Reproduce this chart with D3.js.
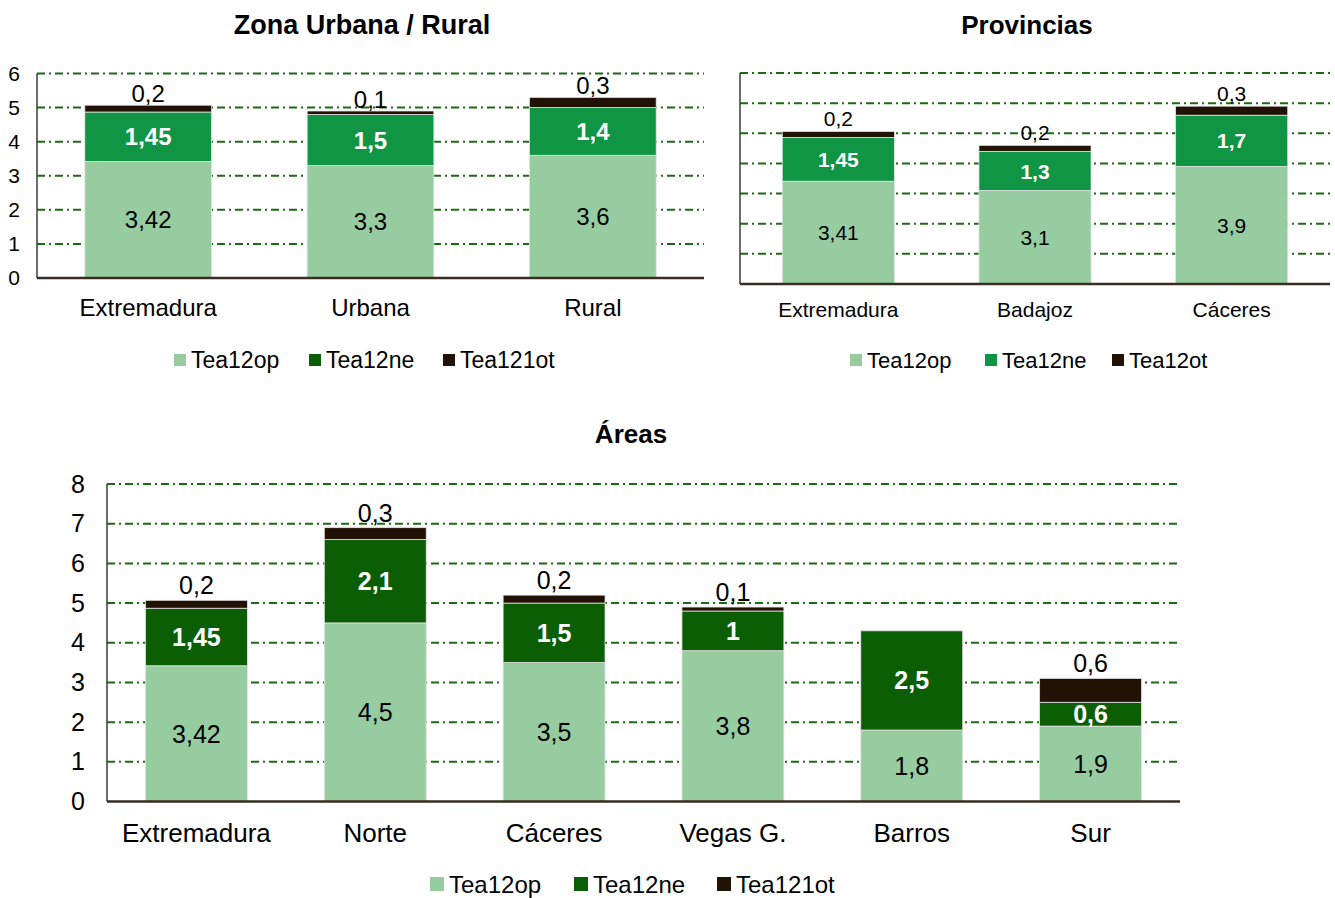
<!DOCTYPE html>
<html>
<head>
<meta charset="utf-8">
<script src="https://cdn.jsdelivr.net/npm/d3@7"></script>
<style>
  html, body { margin: 0; padding: 0; background: #ffffff; }
  svg { display: block; font-family: "Liberation Sans", Arial, sans-serif; }
</style>
</head>
<body>
<svg id="chart" width="1335" height="898"></svg>
<script>
// ---------- DATA ----------
const urbanTitle = "Zona Urbana / Rural";
const urbanCategories = ["Extremadura", "Urbana", "Rural"];
const urbanOp = [3.42, 3.3, 3.6];
const urbanNe = [1.45, 1.5, 1.4];
const urbanOt = [0.2, 0.1, 0.3];
const urbanTicks = [0, 1, 2, 3, 4, 5, 6];
const urbanLegend = ["Tea12op", "Tea12ne", "Tea121ot"];

const provTitle = "Provincias";
const provCategories = ["Extremadura", "Badajoz", "Cáceres"];
const provOp = [3.41, 3.1, 3.9];
const provNe = [1.45, 1.3, 1.7];
const provOt = [0.2, 0.2, 0.3];
const provTicks = [0, 1, 2, 3, 4, 5, 6, 7];
const provLegend = ["Tea12op", "Tea12ne", "Tea12ot"];

const areaTitle = "Áreas";
const areaCategories = ["Extremadura", "Norte", "Cáceres", "Vegas G.", "Barros", "Sur"];
const areaOp = [3.42, 4.5, 3.5, 3.8, 1.8, 1.9];
const areaNe = [1.45, 2.1, 1.5, 1, 2.5, 0.6];
const areaOt = [0.2, 0.3, 0.2, 0.1, 0, 0.6];
const areaTicks = [0, 1, 2, 3, 4, 5, 6, 7, 8];
const areaLegend = ["Tea12op", "Tea12ne", "Tea121ot"];

// ---------- STYLE ----------
const COL_OP = "#96cca0";
const COL_NE_MID = "#109545";
const COL_NE_DARK = "#0b5e04";
const COL_OT = "#221206";
const GRID = "#1c6b14";

const fmt = v => String(v).replace(".", ",");
const svg = d3.select("#chart");

function drawChart(cfg) {
  const g = svg.append("g");
  const y = d3.scaleLinear().domain([0, d3.max(cfg.ticks)]).range([cfg.y0, cfg.y1]);
  const x = d3.scaleBand().domain(cfg.categories).range([cfg.x0, cfg.x1])
    .paddingInner(0.43).paddingOuter(0.215);

  // title
  g.append("text").attr("x", cfg.titleX).attr("y", cfg.titleY)
    .attr("text-anchor", "middle").attr("font-weight", "bold")
    .attr("font-size", cfg.titleSize).attr("fill", "#000").text(cfg.title);

  // gridlines
  g.append("g").selectAll("line").data(cfg.ticks.filter(t => t > 0)).join("line")
    .attr("x1", cfg.x0).attr("x2", cfg.x1)
    .attr("y1", d => y(d)).attr("y2", d => y(d))
    .attr("stroke", GRID).attr("stroke-width", 2)
    .attr("stroke-dasharray", "8,4,2,4");

  // tick labels
  if (cfg.showTicks) {
    const yAxis = d3.axisLeft(y).tickValues(cfg.ticks).tickSize(0).tickPadding(cfg.tickPad)
      .tickFormat(d3.format("d"));
    const ax = g.append("g").attr("transform", `translate(${cfg.x0},0)`).call(yAxis);
    ax.select(".domain").remove();
    ax.selectAll("text").attr("font-size", cfg.tickSize).attr("fill", "#000")
      .attr("font-family", "Liberation Sans, Arial, sans-serif");
  }

  // stacked bars
  const rows = cfg.categories.map((c, i) => ({
    cat: c, op: cfg.op[i], ne: cfg.ne[i], ot: cfg.ot[i]
  }));
  const keys = ["op", "ne", "ot"];
  const colors = { op: COL_OP, ne: cfg.neColor, ot: COL_OT };
  const stack = d3.stack().keys(keys)(rows);
  stack.forEach(layer => {
    g.append("g").selectAll("rect").data(layer.filter(d => d[1] - d[0] > 0)).join("rect")
      .attr("x", d => x(d.data.cat))
      .attr("width", x.bandwidth())
      .attr("y", d => y(d[1]))
      .attr("height", d => y(d[0]) - y(d[1]))
      .attr("fill", colors[layer.key])
      .attr("stroke", "#e4e4e4").attr("stroke-width", 0.8);
  });

  // left axis line and baseline
  g.append("line").attr("x1", cfg.x0).attr("x2", cfg.x0)
    .attr("y1", y(d3.max(cfg.ticks))).attr("y2", cfg.y0)
    .attr("stroke", "#3d3d3d").attr("stroke-width", 1.5);
  g.append("line").attr("x1", cfg.x0).attr("x2", cfg.x1)
    .attr("y1", cfg.y0).attr("y2", cfg.y0)
    .attr("stroke", "#3b2c22").attr("stroke-width", 2.5);

  // value labels
  const vs = cfg.valueSize;
  rows.forEach(r => {
    const cx = x(r.cat) + x.bandwidth() / 2;
    g.append("text").attr("x", cx).attr("y", y(r.op / 2) + vs * 0.36)
      .attr("text-anchor", "middle").attr("font-size", vs).attr("fill", "#000")
      .text(fmt(r.op));
    g.append("text").attr("x", cx).attr("y", y(r.op + r.ne / 2) + vs * 0.36)
      .attr("text-anchor", "middle").attr("font-size", vs).attr("font-weight", "bold")
      .attr("fill", "#fff").text(fmt(r.ne));
    if (r.ot > 0) {
      g.append("text").attr("x", cx)
        .attr("y", y(r.op + r.ne + r.ot) - cfg.otOffset + vs * 0.36)
        .attr("text-anchor", "middle").attr("font-size", vs).attr("fill", "#000")
        .text(fmt(r.ot));
    }
  });

  // category labels
  g.append("g").selectAll("text").data(cfg.categories).join("text")
    .attr("x", d => x(d) + x.bandwidth() / 2).attr("y", cfg.catY)
    .attr("text-anchor", "middle").attr("font-size", cfg.catSize).attr("fill", "#000")
    .text(d => d);

  // legend
  const legColors = [COL_OP, cfg.legendNeColor, COL_OT];
  cfg.legend.forEach((lab, i) => {
    const lx = cfg.legendX[i];
    g.append("rect").attr("x", lx).attr("y", cfg.legendY - cfg.legendSq / 2)
      .attr("width", cfg.legendSq).attr("height", cfg.legendSq).attr("fill", legColors[i]);
    g.append("text").attr("x", lx + cfg.legendSq + 5).attr("y", cfg.legendY + cfg.legendSize * 0.36)
      .attr("font-size", cfg.legendSize).attr("fill", "#000").text(lab);
  });
}

drawChart({
  title: urbanTitle, titleX: 362, titleY: 34, titleSize: 27,
  categories: urbanCategories, op: urbanOp, ne: urbanNe, ot: urbanOt, ticks: urbanTicks,
  x0: 37, x1: 704, y0: 278, y1: 73.5,
  showTicks: true, tickSize: 21, tickPad: 17,
  neColor: COL_NE_MID, legendNeColor: COL_NE_DARK,
  valueSize: 24, otOffset: 12,
  catY: 316, catSize: 24,
  legend: urbanLegend, legendX: [174, 309, 443], legendY: 360, legendSq: 12, legendSize: 23
});

drawChart({
  title: provTitle, titleX: 1027, titleY: 34, titleSize: 26,
  categories: provCategories, op: provOp, ne: provNe, ot: provOt, ticks: provTicks,
  x0: 740, x1: 1330, y0: 284, y1: 73,
  showTicks: false,
  neColor: COL_NE_MID, legendNeColor: COL_NE_MID,
  valueSize: 21, otOffset: 13,
  catY: 317, catSize: 21,
  legend: provLegend, legendX: [850, 985, 1112], legendY: 360, legendSq: 12, legendSize: 22
});

drawChart({
  title: areaTitle, titleX: 631, titleY: 443, titleSize: 26,
  categories: areaCategories, op: areaOp, ne: areaNe, ot: areaOt, ticks: areaTicks,
  x0: 107, x1: 1180, y0: 801.5, y1: 484,
  showTicks: true, tickSize: 25, tickPad: 22,
  neColor: COL_NE_DARK, legendNeColor: COL_NE_DARK,
  valueSize: 25, otOffset: 15,
  catY: 842, catSize: 26,
  legend: areaLegend, legendX: [430, 574, 717], legendY: 884, legendSq: 14, legendSize: 24
});
</script>
</body>
</html>
